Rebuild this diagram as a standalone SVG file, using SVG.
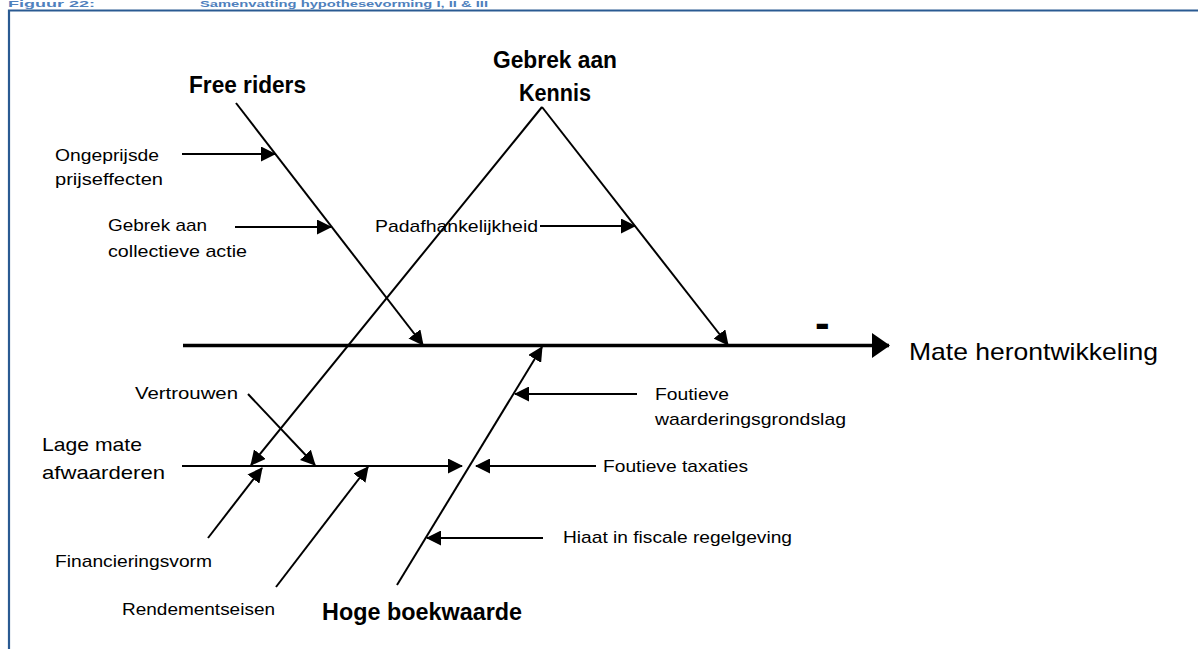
<svg xmlns="http://www.w3.org/2000/svg" width="1198" height="649" viewBox="0 0 1198 649">
  <style>
    .hdr { font-family: "Liberation Sans", Arial, sans-serif; font-weight: bold; font-size: 8.5px; fill: #4F81BD; }
    .lbl { font-family: "Liberation Sans", Arial, sans-serif; font-size: 17px; fill: #000; }
    .big { font-family: "Liberation Sans", Arial, sans-serif; font-size: 19px; fill: #000; }
    .eff { font-family: "Liberation Sans", Arial, sans-serif; font-size: 24px; fill: #000; }
    .cat { font-family: "Liberation Sans", Arial, sans-serif; font-weight: bold; font-size: 23px; fill: #000; }
    .frame { fill: none; stroke: #2A5A92; stroke-width: 2.2; }
    .bone { fill: none; stroke: #000; stroke-width: 2; marker-end: url(#tip); }
    .spine { fill: none; stroke: #000; stroke-width: 3.5; marker-end: url(#tipBig); }
  </style>
  <defs>
    <marker id="tip" markerUnits="userSpaceOnUse" markerWidth="15" markerHeight="15" viewBox="0 0 15 15" refX="14" refY="7.5" orient="auto">
      <path d="M0,0 L15,7.5 L0,15 Z" fill="#000"/>
    </marker>
    <marker id="tipBig" markerUnits="userSpaceOnUse" markerWidth="18" markerHeight="25" viewBox="0 0 18 25" refX="17" refY="12.5" orient="auto">
      <path d="M0,0 L18,12.5 L0,25 Z" fill="#000"/>
    </marker>
  </defs>

  <rect width="1198" height="649" fill="#fff"/>

  <!-- caption and frame -->
  <g id="caption">
    <text class="hdr" x="8" y="6.5" textLength="87" lengthAdjust="spacingAndGlyphs">Figuur 22:</text>
    <text class="hdr" x="200" y="6.5" textLength="288" lengthAdjust="spacingAndGlyphs">Samenvatting hypothesevorming I, II &amp; III</text>
  </g>
  <path class="frame" d="M9,649 V10.5 H1198"/>

  <!-- connectors -->
  <g id="connectors">
    <line class="spine" x1="183" y1="345.5" x2="889" y2="345.5"/>
    <line class="bone" x1="236" y1="103" x2="423" y2="345"/>
    <line class="bone" x1="542" y1="107" x2="728" y2="345"/>
    <line class="bone" x1="542" y1="107" x2="251" y2="465"/>
    <line class="bone" x1="397" y1="585" x2="542" y2="347"/>
    <line class="bone" x1="182" y1="466" x2="462" y2="466"/>
    <line class="bone" x1="182" y1="154" x2="275" y2="154"/>
    <line class="bone" x1="235" y1="227" x2="331" y2="227"/>
    <line class="bone" x1="540" y1="226" x2="635" y2="226"/>
    <line class="bone" x1="248" y1="394" x2="315" y2="465"/>
    <line class="bone" x1="208" y1="538" x2="262" y2="468"/>
    <line class="bone" x1="276" y1="587" x2="368" y2="467"/>
    <line class="bone" x1="637" y1="394" x2="515" y2="394"/>
    <line class="bone" x1="596" y1="466" x2="476" y2="466"/>
    <line class="bone" x1="543" y1="538" x2="427" y2="538"/>
  </g>

  <!-- main categories -->
  <g id="free-riders">
    <text class="cat" x="189" y="93" textLength="117" lengthAdjust="spacingAndGlyphs">Free riders</text>
  </g>
  <g id="gebrek-aan-kennis">
    <text class="cat" x="493" y="68" textLength="124" lengthAdjust="spacingAndGlyphs">Gebrek aan</text>
    <text class="cat" x="519" y="101" textLength="72" lengthAdjust="spacingAndGlyphs">Kennis</text>
  </g>
  <g id="lage-mate-afwaarderen">
    <text class="big" x="42" y="451" textLength="100" lengthAdjust="spacingAndGlyphs">Lage mate</text>
    <text class="big" x="42" y="479" textLength="123" lengthAdjust="spacingAndGlyphs">afwaarderen</text>
  </g>
  <g id="hoge-boekwaarde">
    <text class="cat" x="322" y="620" textLength="200" lengthAdjust="spacingAndGlyphs">Hoge boekwaarde</text>
  </g>

  <!-- effect -->
  <g id="mate-herontwikkeling">
    <text class="eff" x="909" y="360" textLength="249" lengthAdjust="spacingAndGlyphs">Mate herontwikkeling</text>
    <text class="cat" x="815" y="338" style="font-size:44px">-</text>
  </g>

  <!-- causes -->
  <g id="ongeprijsde-prijseffecten">
    <text class="lbl" x="55" y="161" textLength="104" lengthAdjust="spacingAndGlyphs">Ongeprijsde</text>
    <text class="lbl" x="55" y="185" textLength="108" lengthAdjust="spacingAndGlyphs">prijseffecten</text>
  </g>
  <g id="gebrek-aan-collectieve-actie">
    <text class="lbl" x="108" y="231" textLength="99" lengthAdjust="spacingAndGlyphs">Gebrek aan</text>
    <text class="lbl" x="108" y="257" textLength="139" lengthAdjust="spacingAndGlyphs">collectieve actie</text>
  </g>
  <g id="padafhankelijkheid">
    <text class="lbl" x="375" y="232" textLength="163" lengthAdjust="spacingAndGlyphs">Padafhankelijkheid</text>
  </g>
  <g id="vertrouwen">
    <text class="lbl" x="135" y="399" textLength="103" lengthAdjust="spacingAndGlyphs">Vertrouwen</text>
  </g>
  <g id="financieringsvorm">
    <text class="lbl" x="55" y="567" textLength="157" lengthAdjust="spacingAndGlyphs">Financieringsvorm</text>
  </g>
  <g id="rendementseisen">
    <text class="lbl" x="122" y="615" textLength="153" lengthAdjust="spacingAndGlyphs">Rendementseisen</text>
  </g>
  <g id="foutieve-waarderingsgrondslag">
    <text class="lbl" x="655" y="400" textLength="74" lengthAdjust="spacingAndGlyphs">Foutieve</text>
    <text class="lbl" x="655" y="425" textLength="191" lengthAdjust="spacingAndGlyphs">waarderingsgrondslag</text>
  </g>
  <g id="foutieve-taxaties">
    <text class="lbl" x="603" y="472" textLength="145" lengthAdjust="spacingAndGlyphs">Foutieve taxaties</text>
  </g>
  <g id="hiaat-fiscale-regelgeving">
    <text class="lbl" x="563" y="543" textLength="229" lengthAdjust="spacingAndGlyphs">Hiaat in fiscale regelgeving</text>
  </g>
</svg>
